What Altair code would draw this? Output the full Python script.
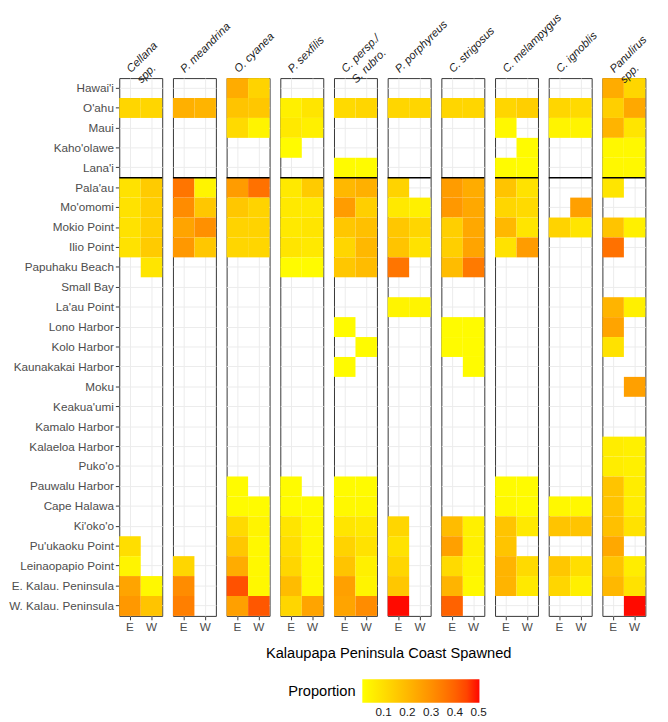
import altair as alt
import pandas as pd

N = None
NB = "\u00a0" * 4

species = ["Cellana spp.", "P. meandrina", "O. cyanea", "P. sexfilis",
           "C. persp./S. rubro.", "P. porphyreus", "C. strigosus",
           "C. melampygus", "C. ignoblis", "Panulirus spp."]

strip_labels = ["Cellana|" + NB + "spp.", "P. meandrina", "O. cyanea", "P. sexfilis",
                "C. persp./|" + NB + "S. rubro.", "P. porphyreus", "C. strigosus",
                "C. melampygus", "C. ignoblis", "Panulirus|" + NB + "spp."]

locations = ["Hawai'i", "O'ahu", "Maui", "Kaho'olawe", "Lana'i", "Pala'au",
             "Mo'omomi", "Mokio Point", "Ilio Point", "Papuhaku Beach",
             "Small Bay", "La'au Point", "Lono Harbor", "Kolo Harbor",
             "Kaunakakai Harbor", "Moku", "Keakua'umi", "Kamalo Harbor",
             "Kalaeloa Harbor", "Puko'o", "Pauwalu Harbor", "Cape Halawa",
             "Ki'oko'o", "Pu'ukaoku Point", "Leinaopapio Point",
             "E. Kalau. Peninsula", "W. Kalau. Peninsula"]

sides = ["E", "W"]
legend_ticks = [0.1, 0.2, 0.3, 0.4, 0.5]

# proportions per location (same order as `locations`), None = no value
cellana_E = [N, .12, N, N, N, .09, .09, .09, .09, N, N, N, N, N, N, N, N, N, N, N, N, N, N, .10, .04, .25, .28]
cellana_W = [N, .12, N, N, N, .15, .14, .14, .15, .08, N, N, N, N, N, N, N, N, N, N, N, N, N, N, N, .03, .17]
meand_E = [N, .22, N, N, N, .36, .31, .25, .28, N, N, N, N, N, N, N, N, N, N, N, N, N, N, N, .12, .31, .34]
meand_W = [N, .21, N, N, N, .04, .16, .30, .16, N, N, N, N, N, N, N, N, N, N, N, N, N, N, N, N, N, N]
cyanea_E = [.23, .17, .11, N, N, .27, .16, .13, .12, N, N, N, N, N, N, N, N, N, N, N, .02, .02, .11, .16, .23, .43, .26]
cyanea_W = [.13, .16, .04, N, N, .37, .13, .13, .12, N, N, N, N, N, N, N, N, N, N, N, N, .02, .04, .03, .03, .03, .42]
sexfilis_E = [N, .05, .07, .02, N, .07, .07, .07, .08, .02, N, N, N, N, N, N, N, N, N, N, .02, .02, .08, .10, .12, .19, .12]
sexfilis_W = [N, .08, .05, N, N, .15, .07, .08, .07, .02, N, N, N, N, N, N, N, N, N, N, N, .02, .03, .03, .03, .03, .25]
persp_E = [N, .11, N, N, .02, .20, .27, .16, .12, .16, N, N, .02, N, .02, N, N, N, N, N, .02, .03, .08, .13, .17, .26, .25]
persp_W = [N, .12, N, N, .02, .22, .14, .18, .20, .19, N, N, N, .02, N, N, N, N, N, N, .02, .03, .07, .09, .05, .04, .31]
porph_E = [N, .12, N, N, N, .13, .07, .16, .17, .36, N, .04, N, N, N, N, N, N, N, N, N, N, .12, .09, .12, .16, .50]
porph_W = [N, .12, N, N, N, N, .05, .12, .09, N, N, .04, N, N, N, N, N, N, N, N, N, N, N, N, N, N, N]
strig_E = [N, .12, N, N, N, .27, .28, .14, .14, .19, N, N, .02, .02, N, N, N, N, N, N, N, N, .19, .26, .11, .21, .40]
strig_W = [N, .12, N, N, N, .23, .24, .24, .25, .35, N, N, .02, .02, .02, N, N, N, N, N, N, N, .05, .05, .04, .03, N]
melamp_E = [N, .12, .03, N, .02, .17, .12, .20, .09, N, N, N, N, N, N, N, N, N, N, N, .02, .03, .17, .17, .21, .21, N]
melamp_W = [N, .14, N, .02, .02, .09, .11, .08, .27, N, N, N, N, N, N, N, N, N, N, N, .02, .02, .07, N, .11, .07, N]
ignob_E = [N, .12, .04, N, N, N, N, .13, N, N, N, N, N, N, N, N, N, N, N, N, N, .03, .17, N, .16, .12, N]
ignob_W = [N, .11, .04, N, N, N, .26, .08, N, N, N, N, N, N, N, N, N, N, N, N, N, .03, .17, N, .10, .05, N]
panul_E = [.23, .14, .21, .03, .03, .08, N, .17, .37, N, N, .21, .25, .09, N, N, N, N, .06, .06, .17, .17, .18, .24, .17, .20, N]
panul_W = [.12, .24, .08, .03, .03, N, N, .05, N, N, N, .05, N, N, N, .26, N, N, .05, .05, .06, .06, .09, N, .06, .09, .50]

series = [
    (cellana_E, cellana_W), (meand_E, meand_W), (cyanea_E, cyanea_W),
    (sexfilis_E, sexfilis_W), (persp_E, persp_W), (porph_E, porph_W),
    (strig_E, strig_W), (melamp_E, melamp_W), (ignob_E, ignob_W),
    (panul_E, panul_W),
]

rows = []
for sp, lab, (e_vals, w_vals) in zip(species, strip_labels, series):
    for side, vals in zip(sides, (e_vals, w_vals)):
        for loc, v in zip(locations, vals):
            rows.append({"species": sp, "label": lab, "loc": loc, "side": side, "p": v})
df = pd.DataFrame(rows)

FONT = "Liberation Sans"

x_scale = alt.Scale(domain=sides, paddingInner=0, paddingOuter=0)
y_scale = alt.Scale(domain=locations, paddingInner=0, paddingOuter=0)
c_scale = alt.Scale(domain=[0.01, 0.503], range=["#FFFF00", "#FF0000"], interpolate="lab")

tiles = alt.Chart().mark_rect().encode(
    x=alt.X("side:N", scale=x_scale, axis=alt.Axis(title=None, labelAngle=0, grid=True)),
    y=alt.Y("loc:N", scale=y_scale, axis=alt.Axis(title=None, grid=True)),
    color=alt.Color("p:Q", scale=c_scale,
                    legend=alt.Legend(type="gradient", title="Proportion", orient="none",
                                      legendX=173, legendY=616,
                                      direction="horizontal", titleOrient="left",
                                      titleAnchor="middle", titleBaseline="middle",
                                      gradientLength=120, gradientThickness=24,
                                      values=legend_ticks, format=".1f", labelOverlap=False,
                                      labelOffset=5, labelAlign="center",
                                      titleFontSize=15, titleFontWeight="normal", titleColor="#000000",
                                      titleFont=FONT, titlePadding=6,
                                      labelFontSize=12, labelColor="#1A1A1A", labelFont=FONT,
                                      gradientStrokeWidth=0)),
).transform_filter("isValid(datum.p) && isFinite(datum.p)")

divider = alt.Chart().mark_rule(color="black", strokeWidth=1.5).encode(
    y=alt.Y("loc:N", bandPosition=1, scale=y_scale),
).transform_filter(alt.FieldEqualPredicate(field="loc", equal="Lana'i")).transform_filter(
    alt.FieldEqualPredicate(field="side", equal="E"))

strips = alt.Chart().mark_text(
    align="left", baseline="middle", angle=315, fontStyle="italic", fontSize=11.5,
    font=FONT, color="#1A1A1A", lineHeight=15
).encode(
    x=alt.value(10), y=alt.value(-7), text="lab:N"
).transform_filter(alt.FieldEqualPredicate(field="loc", equal="Hawai'i")).transform_filter(
    alt.FieldEqualPredicate(field="side", equal="E")).transform_calculate(
    lab="split(datum.label, '|')")

chart = alt.layer(tiles, divider, strips, data=df).properties(width=44, height=551).facet(
    column=alt.Facet("species:N", sort=species,
                     header=alt.Header(labels=False, title="Kalaupapa Peninsula Coast Spawned",
                                       titleOrient="bottom", titleFontSize=15,
                                       titleFontWeight="normal", titleColor="#000000",
                                       titleFont=FONT, titlePadding=4)),
    spacing=11,
    bounds="flush",
).configure(font=FONT, padding={"top": -6, "left": 0, "right": 0, "bottom": 0}).configure_view(
    stroke="#333333", strokeWidth=1
).configure_axis(
    labelFont=FONT, labelFontSize=12, labelColor="#4D4D4D", tickColor="#333333", tickSize=4,
    domain=False, gridColor="#EBEBEB", gridWidth=1, labelPadding=2, zindex=0
)

chart.save("out.html", embed_options={"renderer": "svg", "actions": False})
